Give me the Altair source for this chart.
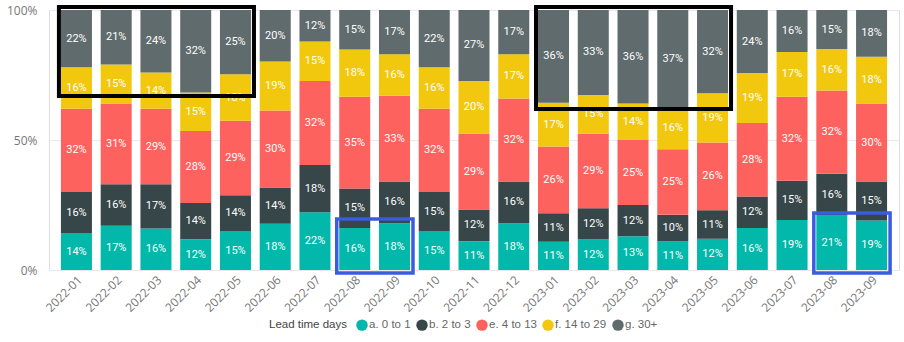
import altair as alt
import pandas as pd

months = ["2022-01", "2022-02", "2022-03", "2022-04", "2022-05", "2022-06", "2022-07",
          "2022-08", "2022-09", "2022-10", "2022-11", "2022-12", "2023-01", "2023-02",
          "2023-03", "2023-04", "2023-05", "2023-06", "2023-07", "2023-08", "2023-09"]
groups = ["a. 0 to 1", "b. 2 to 3", "e. 4 to 13", "f. 14 to 29", "g. 30+"]
colors = ["#01B8AA", "#374649", "#FD625E", "#F2C80F", "#5F6B6D"]

a_0_1 = [14, 17, 16, 12, 15, 18, 22, 16, 18, 15, 11, 18, 11, 12, 13, 11, 12, 16, 19, 21, 19]
b_2_3 = [16, 16, 17, 14, 14, 14, 18, 15, 16, 15, 12, 16, 11, 12, 12, 10, 11, 12, 15, 16, 15]
e_4_13 = [32, 31, 29, 28, 29, 30, 32, 35, 33, 32, 29, 32, 26, 29, 25, 25, 26, 28, 32, 32, 30]
f_14_29 = [16, 15, 14, 15, 18, 19, 15, 18, 16, 16, 20, 17, 17, 15, 14, 16, 19, 19, 17, 16, 18]
g_30 = [22, 21, 24, 32, 25, 20, 12, 15, 17, 22, 27, 17, 36, 33, 36, 37, 32, 24, 16, 15, 18]

series = [a_0_1, b_2_3, e_4_13, f_14_29, g_30]
rows = []
for gi, (g, vals) in enumerate(zip(groups, series)):
    for m, v in zip(months, vals):
        rows.append({"month": m, "group": g, "order": gi, "val": v})
df = pd.DataFrame(rows)

# highlight boxes (category span and y range as share of 100%)
box_start = ["2022-01", "2023-01", "2022-08", "2023-08"]
box_end = ["2022-05", "2023-05", "2022-09", "2023-09"]
box_top = [1.012, 1.012, 0.196, 0.219]
box_bottom = [0.669, 0.619, -0.012, -0.012]
box_kind = ["black", "black", "blue", "blue"]
boxes = pd.DataFrame({"start": box_start, "end": box_end, "top": box_top,
                      "bottom": box_bottom, "kind": box_kind})

xscale = alt.Scale(domain=months, paddingInner=0.22, paddingOuter=0.3)
yscale = alt.Scale(domain=[0, 1], nice=False)

base = alt.Chart(df).transform_stack(
    stack="val", groupby=["month"], as_=["y0", "y1"], offset="normalize",
    sort=[alt.SortField("order", order="ascending")]
).transform_calculate(mid="(datum.y0 + datum.y1) / 2",
                      lab="datum.val + '%'")

bars = base.mark_bar().encode(
    x=alt.X("month:N", scale=xscale, sort=months,
            axis=alt.Axis(title=None, labelAngle=-45, ticks=False, domain=False,
                          labelColor="#777777", labelFontSize=12, labelFont="Open Sans",
                          labelPadding=4)),
    y=alt.Y("y0:Q", scale=yscale,
            axis=alt.Axis(title=None, values=[0, 0.5, 1], format=".0%", ticks=False,
                          domain=False, grid=True, gridColor="#e9e9e9",
                          labelColor="#777777", labelFontSize=12, labelFont="Open Sans",
                          labelPadding=12)),
    y2="y1:Q",
    color=alt.Color("group:N", scale=alt.Scale(domain=groups, range=colors),
                    legend=alt.Legend(title="Lead time days", orient="none",
                                      legendX=220, legendY=309, direction="horizontal",
                                      titleOrient="left", symbolType="circle",
                                      symbolSize=130, symbolStrokeWidth=0,
                                      titleFont="Liberation Sans", titleFontSize=11.5,
                                      titleFontWeight="normal", titleColor="#444444",
                                      labelFont="Liberation Sans", labelFontSize=11.5,
                                      labelColor="#666666", labelOffset=1,
                                      columnPadding=5, titlePadding=9)),
)

labels = base.mark_text(color="white", font="Roboto", fontSize=11).encode(
    x=alt.X("month:N", scale=xscale, sort=months),
    y=alt.Y("mid:Q", scale=yscale),
    text="lab:N",
)

black = alt.Chart(boxes).transform_filter("datum.kind == 'black'").mark_rect(
    filled=False, stroke="black", strokeWidth=4, xOffset=-2, x2Offset=3
).encode(
    x=alt.X("start:N", scale=xscale, sort=months, bandPosition=0),
    x2=alt.X2("end:N", bandPosition=1),
    y=alt.Y("top:Q", scale=yscale),
    y2="bottom:Q",
)
blue = alt.Chart(boxes).transform_filter("datum.kind == 'blue'").mark_rect(
    filled=False, stroke="#3A5CE0", strokeWidth=3.5, xOffset=-2.5, x2Offset=3
).encode(
    x=alt.X("start:N", scale=xscale, sort=months, bandPosition=0),
    x2=alt.X2("end:N", bandPosition=1),
    y=alt.Y("top:Q", scale=yscale),
    y2="bottom:Q",
)

chart = alt.layer(bars, labels, black, blue).properties(
    width=850, height=260,
    autosize=alt.AutoSizeParams(type="none"),
    padding={"left": 49, "top": 10, "right": 5, "bottom": 72},
).configure_view(stroke=None).configure(background="white")

chart.save("out.html", embed_options={"renderer": "svg", "actions": False})
